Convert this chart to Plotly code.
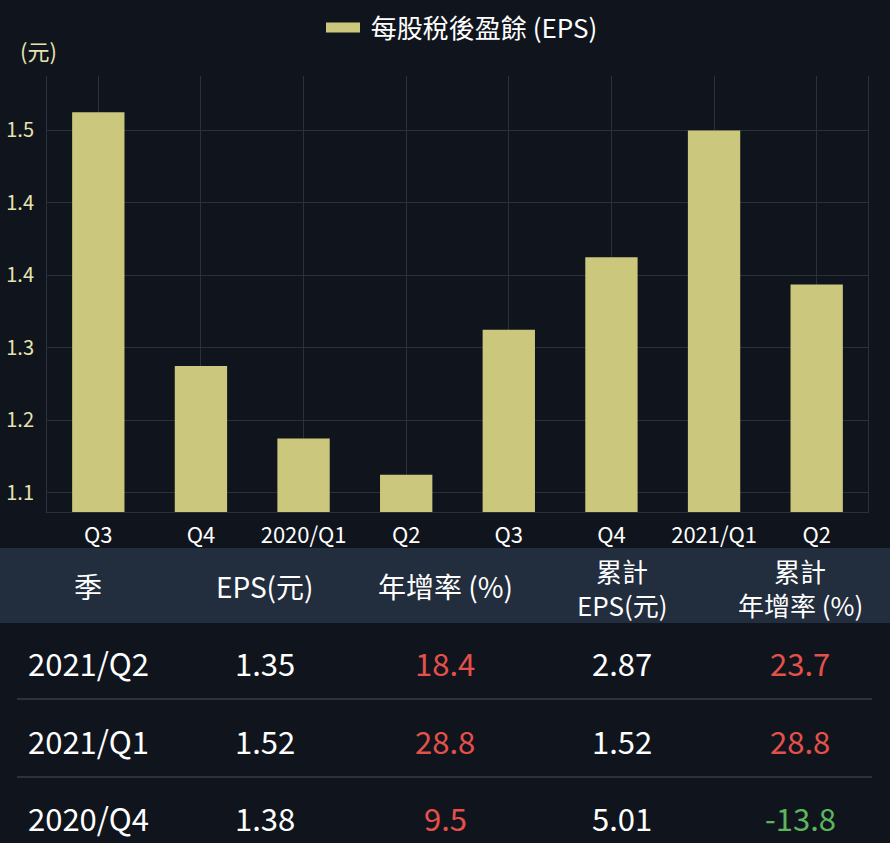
import plotly.graph_objects as go

# chart data
quarters = ["2019/Q3", "2019/Q4", "2020/Q1", "2020/Q2", "2020/Q3", "2020/Q4", "2021/Q1", "2021/Q2"]
quarter_labels = ["Q3", "Q4", "2020/Q1", "Q2", "Q3", "Q4", "2021/Q1", "Q2"]
eps = [1.54, 1.26, 1.18, 1.14, 1.30, 1.38, 1.52, 1.35]
y_ticks = [1.12, 1.20, 1.28, 1.36, 1.44, 1.52]
y_tick_labels = ["1.1", "1.2", "1.3", "1.4", "1.4", "1.5"]

# table data
header_top = ["", "", "", "累計", "累計"]
header_bottom = ["季", "EPS(元)", "年增率 (%)", "EPS(元)", "年增率 (%)"]
table_quarters = ["2021/Q2", "2021/Q1", "2020/Q4"]
table_eps = ["1.35", "1.52", "1.38"]
table_yoy = [18.4, 28.8, 9.5]
table_cum_eps = ["2.87", "1.52", "5.01"]
table_cum_yoy = [23.7, 28.8, -13.8]

BG = "#10151d"
GRID = "#2b313b"
BAR = "#cbc77c"
RED = "#e5504a"
GREEN = "#5db55e"
FONT = "Noto Sans CJK TC"

W, H = 890, 843
L, R, T, B = 47, 22, 76, 331
PW, PH = W - L - R, H - T - B


def px(x):
    return (x - L) / PW


def py(y):
    return (H - B - y) / PH


fig = go.Figure()
fig.add_trace(go.Bar(x=quarters, y=eps, marker=dict(color=BAR, line=dict(width=0)),
                     showlegend=False, hoverinfo="x+y"))
# legend entry drawn as a thick line so the swatch is a wide bar
fig.add_trace(go.Scatter(x=[None], y=[None], mode="lines", name="\u00a0每股稅後盈餘 (EPS)",
                         line=dict(color=BAR, width=11)))

fig.update_layout(
    width=W, height=H,
    margin=dict(l=L, r=R, t=T, b=B),
    paper_bgcolor=BG, plot_bgcolor=BG,
    font=dict(family=FONT, color="white"),
    bargap=0.49,
    legend=dict(orientation="h", xref="container", yref="container",
                x=462 / W, xanchor="center", y=1 - 4 / H, yanchor="top",
                font=dict(size=26, color="white"), itemwidth=34, bgcolor="rgba(0,0,0,0)"),
    xaxis=dict(tickvals=quarters, ticktext=quarter_labels, showgrid=True, gridcolor=GRID,
               showline=True, linecolor=GRID, linewidth=1, ticks="", fixedrange=True,
               automargin=False, ticklabelstandoff=4,
               tickfont=dict(size=22, color="white")),
    yaxis=dict(range=[1.099, 1.58], tickvals=y_ticks, ticktext=y_tick_labels,
               showgrid=True, gridcolor=GRID, zeroline=False,
               showline=True, mirror=True, linecolor=GRID, linewidth=1, ticks="",
               ticklabelstandoff=8, automargin=False,
               tickfont=dict(size=20, color="#e8e4b0"), fixedrange=True),
)

shapes = [
    dict(type="rect", xref="paper", yref="paper", x0=px(0), x1=px(W), y0=py(548), y1=py(623),
         fillcolor="#222d3d", line=dict(width=0), layer="below"),
]
for sep in (699, 777):
    shapes.append(dict(type="line", xref="paper", yref="paper", x0=px(17), x1=px(872),
                       y0=py(sep), y1=py(sep), line=dict(color="#2c323c", width=2)))
fig.update_layout(shapes=shapes)


def label(text, x, y, size, color):
    return dict(text=text, x=px(x), y=py(y), xref="paper", yref="paper", showarrow=False,
                xanchor="center", yanchor="middle", font=dict(size=size, color=color))


annotations = [label("(元)", 38, 50, 22, "#e8e4b0")]

col_x = [88, 265, 445, 622, 800]
for cx, top, bottom in zip(col_x, header_top, header_bottom):
    if top:
        annotations.append(label(top, cx, 570, 26, "white"))
        annotations.append(label(bottom, cx, 604, 26, "white"))
    else:
        annotations.append(label(bottom, cx, 586, 28, "white"))


def rate_color(v):
    return RED if v >= 0 else GREEN


row_y = [662, 740, 817]
for i, ry in enumerate(row_y):
    cells = [
        (table_quarters[i], "white"),
        (table_eps[i], "white"),
        (f"{table_yoy[i]:.1f}", rate_color(table_yoy[i])),
        (table_cum_eps[i], "white"),
        (f"{table_cum_yoy[i]:.1f}", rate_color(table_cum_yoy[i])),
    ]
    for cx, (txt, col) in zip(col_x, cells):
        annotations.append(label(txt, cx, ry, 31, col))

fig.update_layout(annotations=annotations)

fig.write_html("out.html", config={"displayModeBar": False},
               post_script="document.body.style.margin='0';")
